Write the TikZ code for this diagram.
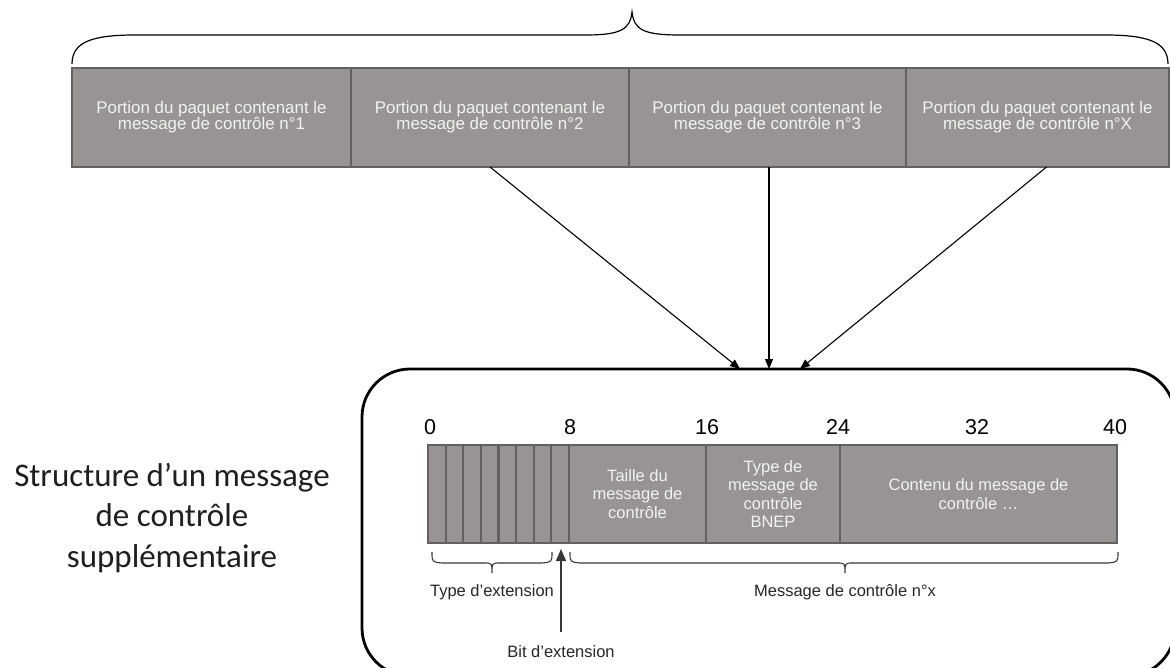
\documentclass[tikz,border=0pt]{standalone}
\usepackage{fontspec}
\setmainfont{Liberation Sans}
\newfontfamily\labelfont{Carlito}
\usetikzlibrary{arrows.meta}

\definecolor{cellfill}{RGB}{152,148,148}
\definecolor{cellline}{RGB}{98,96,96}
\definecolor{celltext}{RGB}{242,242,242}
\definecolor{inkgray}{RGB}{55,55,55}

\tikzset{
  cell/.style={draw=cellline, fill=cellfill, line width=2.2pt, inner sep=0pt, outer sep=0pt,
    text=celltext, align=center},
  topbox/.style={cell, minimum height=99pt, font=\fontsize{16.9}{16}\selectfont},
  field/.style={cell, minimum height=98pt, font=\fontsize{16.5}{18.5}\selectfont},
  bitcell/.style={cell, minimum height=98pt, minimum width=17.625pt},
  bitnum/.style={font=\fontsize{21.5}{21.5}\selectfont, inner sep=0pt},
  caption/.style={font=\fontsize{16.5}{18}\selectfont, inner sep=0pt, text=black!85},
  bracepath/.style={draw=inkgray, line width=1.1pt},
  feed/.style={draw=black, line width=1.1pt, -{Triangle[length=10pt,width=8pt]}},
  frame/.style={draw=black, line width=2.8pt, rounded corners=48pt, inner sep=0pt, outer sep=0pt}
}

\begin{document}
\begin{tikzpicture}[x=1pt, y=-1pt]
\useasboundingbox (0,0) rectangle (1170,668);

% packet made of successive control-message portions
\node[topbox, minimum width=279pt] (p1) at (211.5,117.5) {Portion du paquet contenant le\\message de contrôle n°1};
\node[topbox, minimum width=278pt] (p2) at (490,117.5) {Portion du paquet contenant le\\message de contrôle n°2};
\node[topbox, minimum width=277pt] (p3) at (767.5,117.5) {Portion du paquet contenant le\\message de contrôle n°3};
\node[topbox, minimum width=263pt] (px) at (1037.5,117.5) {Portion du paquet contenant le\\message de contrôle n°X};

% brace over the whole packet
\draw[draw=black, line width=1.2pt]
  (72,64) .. controls (72,42) and (92,35) .. (135,35) -- (585,35)
  .. controls (620,35) and (630,30) .. (632,12)
  .. controls (634,30) and (644,35) .. (680,35) -- (1105,35)
  .. controls (1148,35) and (1168,42) .. (1168,64);

% detailed structure frame
\node[frame, minimum width=813pt, minimum height=307pt] (box) at (768.5,522.5) {};
\coordinate (in1) at (740,369);
\coordinate (in2) at (769,369);
\coordinate (in3) at (800,369);
\draw[feed] (p2.south) -- (in1);
\draw[feed] ([xshift=1.5pt]p3.south) -- (in2);
\draw[feed] ([xshift=9pt]px.south) -- (in3);

% title of the structure
\node[font=\labelfont\fontsize{33}{40.5}\selectfont, align=center, text=black!88] (title)
  at (172,518) {Structure d’un message\\de contrôle\\supplémentaire};

% bit positions
\node[bitnum] (n0) at (430,427) {0};
\node[bitnum] (n8) at (570,427) {8};
\node[bitnum] (n16) at (707,427) {16};
\node[bitnum] (n24) at (838,427) {24};
\node[bitnum] (n32) at (977,427) {32};
\node[bitnum] (n40) at (1115,427) {40};

% extension type bits and extension bit
\foreach \i in {0,...,7}{
  \node[bitcell] (b\i) at ({428+17.625*(\i+0.5)},494) {};
}
% fields
\node[field, minimum width=137pt] (f1) at (637.5,494) {Taille du\\message de\\contrôle};
\node[field, minimum width=134pt] (f2) at (773,494) {Type de\\message de\\contrôle\\BNEP};
\node[field, minimum width=277pt] (f3) at (978.5,494) {Contenu du message de\\contrôle …};

% braces under the fields
\draw[bracepath]
  (432,552) .. controls (432,562) .. (442,563) -- (484,563)
  .. controls (492,563) .. (492,573)
  .. controls (492,563) .. (500,563) -- (542,563)
  .. controls (552,562) .. (552,552);
\draw[bracepath]
  (570,552) .. controls (570,562) .. (580,563) -- (837,563)
  .. controls (845,563) .. (845,573)
  .. controls (845,563) .. (853,563) -- (1108,563)
  .. controls (1118,562) .. (1118,552);

\node[caption] (ext) at (492,592) {Type d’extension};
\node[caption] (msg) at (845,592) {Message de contrôle n°x};
\node[caption, anchor=north] (bit) at (561,645) {Bit d’extension};
\coordinate (bitbase) at (561,632);
\coordinate (bittip) at (561,549);
\draw[draw=inkgray, line width=1.6pt, -{Triangle[length=12pt,width=10pt]}] (bitbase) -- (bittip);
\end{tikzpicture}
\end{document}
